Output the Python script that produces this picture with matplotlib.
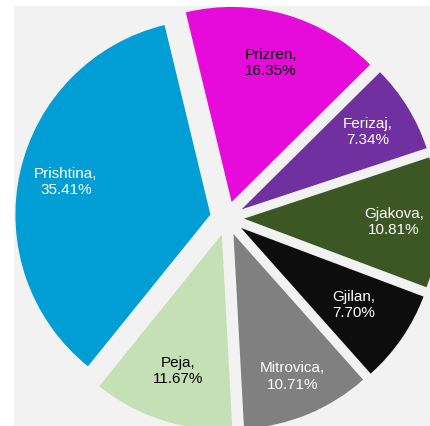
import numpy as np
import matplotlib
matplotlib.use("Agg")
import matplotlib.pyplot as plt
from matplotlib.patches import Rectangle

plt.rcParams['font.family'] = ['Liberation Sans', 'DejaVu Sans']

# Share of total by region (%)
regions = ["Prizren", "Ferizaj", "Gjakova", "Gjilan", "Mitrovica", "Peja", "Prishtina"]
shares = [16.35, 7.34, 10.81, 7.70, 10.71, 11.67, 35.41]

colors = ["#E60BDB", "#7030A0", "#3C5724", "#0D0D0D", "#808080", "#C5E0B4", "#009ED4"]
text_colors = ["black", "white", "white", "white", "white", "black", "white"]
label_dist = [0.74, 0.76, 0.77, 0.70, 0.79, 0.735, 0.76]

W, H = 430, 426
fig = plt.figure(figsize=(W / 100, H / 100), dpi=100)
ax = fig.add_axes([0, 0, 1, 1])
ax.set_facecolor("white")

# chart area background
ax.add_patch(Rectangle((14, 0), W - 14, H - 6, facecolor="#F2F2F2",
                       edgecolor="none", zorder=0))

radius = 195
center = (227, H - 218.3)
wedges, _ = ax.pie(shares, colors=colors, startangle=90 + 13.6,
                   counterclock=False, radius=radius, center=center,
                   explode=[17] * len(shares), frame=True,
                   wedgeprops=dict(linewidth=0))

for w, name, val, tc, ld in zip(wedges, regions, shares, text_colors, label_dist):
    mid = np.deg2rad(0.5 * (w.theta1 + w.theta2))
    cx, cy = w.center
    x = cx + ld * w.r * np.cos(mid)
    y = cy + ld * w.r * np.sin(mid)
    ax.text(x, y, f"{name},\n{val:.2f}%", ha="center", va="center",
            color=tc, fontsize=11, linespacing=1.2)

ax.set_xlim(0, W)
ax.set_ylim(0, H)
ax.set_aspect("equal")
ax.axis("off")

fig.savefig("out.png", dpi=100, facecolor="white")
